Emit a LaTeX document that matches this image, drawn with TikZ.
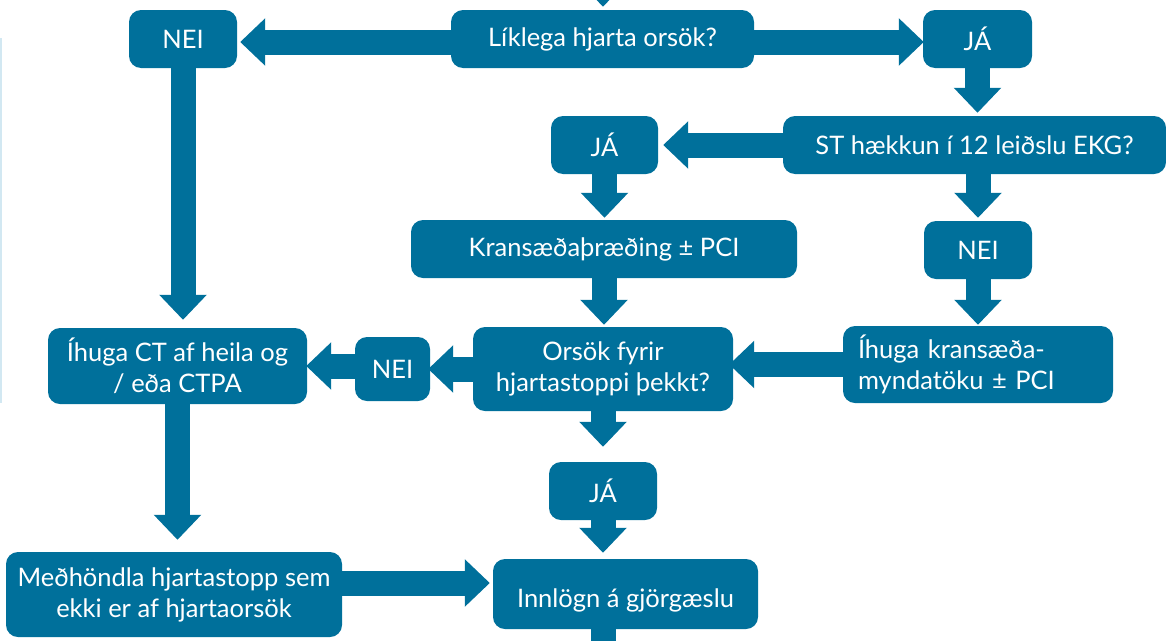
\documentclass[tikz,border=0pt]{standalone}
\usepackage{fontspec}
\setmainfont{Lato}
\usetikzlibrary{arrows.meta}
\definecolor{flowblue}{RGB}{0,112,155}
\definecolor{edgeblue}{RGB}{210,232,242}
\begin{document}
\begin{tikzpicture}[x=1pt,y=-1pt,
    box/.style={fill=flowblue,text=white,rounded corners=12pt,inner sep=0pt,
      align=center,font=\fontsize{25.5}{31}\selectfont},
    flow/.style={draw=flowblue,line width=25pt,-{Triangle[width=46pt,length=25pt]}}]
  \useasboundingbox (0,0) rectangle (1166,640);
  \clip (0,0) rectangle (1166,640);
  \draw[edgeblue,line width=1.5pt] (0.75,38) -- (0.75,403);
  \node[box,minimum width=303pt,minimum height=58pt] (lik) at (602.5,39) {Líklega hjarta orsök?};
  \node[box,minimum width=108pt,minimum height=58pt] (nei1) at (183,39) {NEI};
  \node[box,minimum width=109pt,minimum height=58pt] (ja1) at (977.5,39) {JÁ};
  \node[box,minimum width=383pt,minimum height=58pt] (st) at (974.5,145) {ST hækkun í 12 leiðslu EKG?};
  \node[box,minimum width=107pt,minimum height=58pt] (ja2) at (604.5,145) {JÁ};
  \node[box,minimum width=386pt,minimum height=58pt] (kran) at (604,249) {Kransæðaþræðing ± PCI};
  \node[box,minimum width=108pt,minimum height=58pt] (nei2) at (978,250) {NEI};
  \node[box,minimum width=270pt,minimum height=77pt,text width=240pt,align=left] (ihk) at (978,364.5) {Íhuga kransæða-\\myndatöku ± PCI};
  \node[box,minimum width=260pt,minimum height=84pt] (ors) at (603,369) {Orsök fyrir\\hjartastoppi þekkt?};
  \node[box,minimum width=75pt,minimum height=64pt] (nei3) at (392.5,369) {NEI};
  \node[box,minimum width=259pt,minimum height=76pt] (ihct) at (177.5,366) {Íhuga CT af heila og\\/ eða CTPA};
  \node[box,minimum width=108pt,minimum height=58pt] (ja3) at (603,491) {JÁ};
  \node[box,minimum width=336pt,minimum height=85pt] (med) at (174,594.5) {Meðhöndla hjartastopp sem\\ekki er af hjartaorsök};
  \node[box,minimum width=265pt,minimum height=70pt] (inn) at (625.5,594) {\raisebox{-6pt}[\height][\depth]{Innlögn á gjörgæslu}};
  \coordinate (topin) at (603,-40);
  \coordinate (botout) at (603,680);
  \begin{scope}[flow]
    \draw[shorten >=3pt] (topin) to (topin |- lik.north);
    \draw[shorten >=3pt] ([yshift=-3pt]lik.west) to ([yshift=-3pt]nei1.east);
    \draw[shorten >=-1pt] ([yshift=-3pt]lik.east) to ([yshift=-3pt]ja1.west);
    \draw[shorten >=3pt] (ja1.south) to (ja1.south |- st.north);
    \draw[shorten >=5pt] (st.west) to (ja2.east);
    \draw[shorten >=2pt] (ja2.south) to (ja2.south |- kran.north);
    \draw[shorten >=3pt] (nei2.north |- st.south) to (nei2.north);
    \draw[shorten >=1pt] (nei2.south) to (nei2.south |- ihk.north);
    \draw[shorten >=2pt] (kran.south) to (kran.south |- ors.north);
    \draw[shorten >=-4pt] (ihk.west) to (ihk.west -| ors.east);
    \draw[shorten >=-2pt] (ors.west) to (ors.west -| nei3.east);
    \draw[shorten >=-1pt] ([yshift=3pt]nei3.west) to ([yshift=3pt]nei3.west -| ihct.east);
    \draw[shorten >=15pt] (ors.south) to (ja3.north);
    \draw[shorten >=6pt] (ja3.south) to (ja3.south |- inn.north);
    \draw[shorten >=8pt] (nei1.south) to (nei1.south |- ihct.north);
    \draw[shorten >=12pt] (ihct.south) to (ihct.south |- med.north);
    \draw[shorten >=3pt] ([yshift=11.5pt]med.east) to ([yshift=11.5pt]med.east -| inn.west);
    \draw (botout |- inn.south) to (botout);
  \end{scope}
\end{tikzpicture}
\end{document}
